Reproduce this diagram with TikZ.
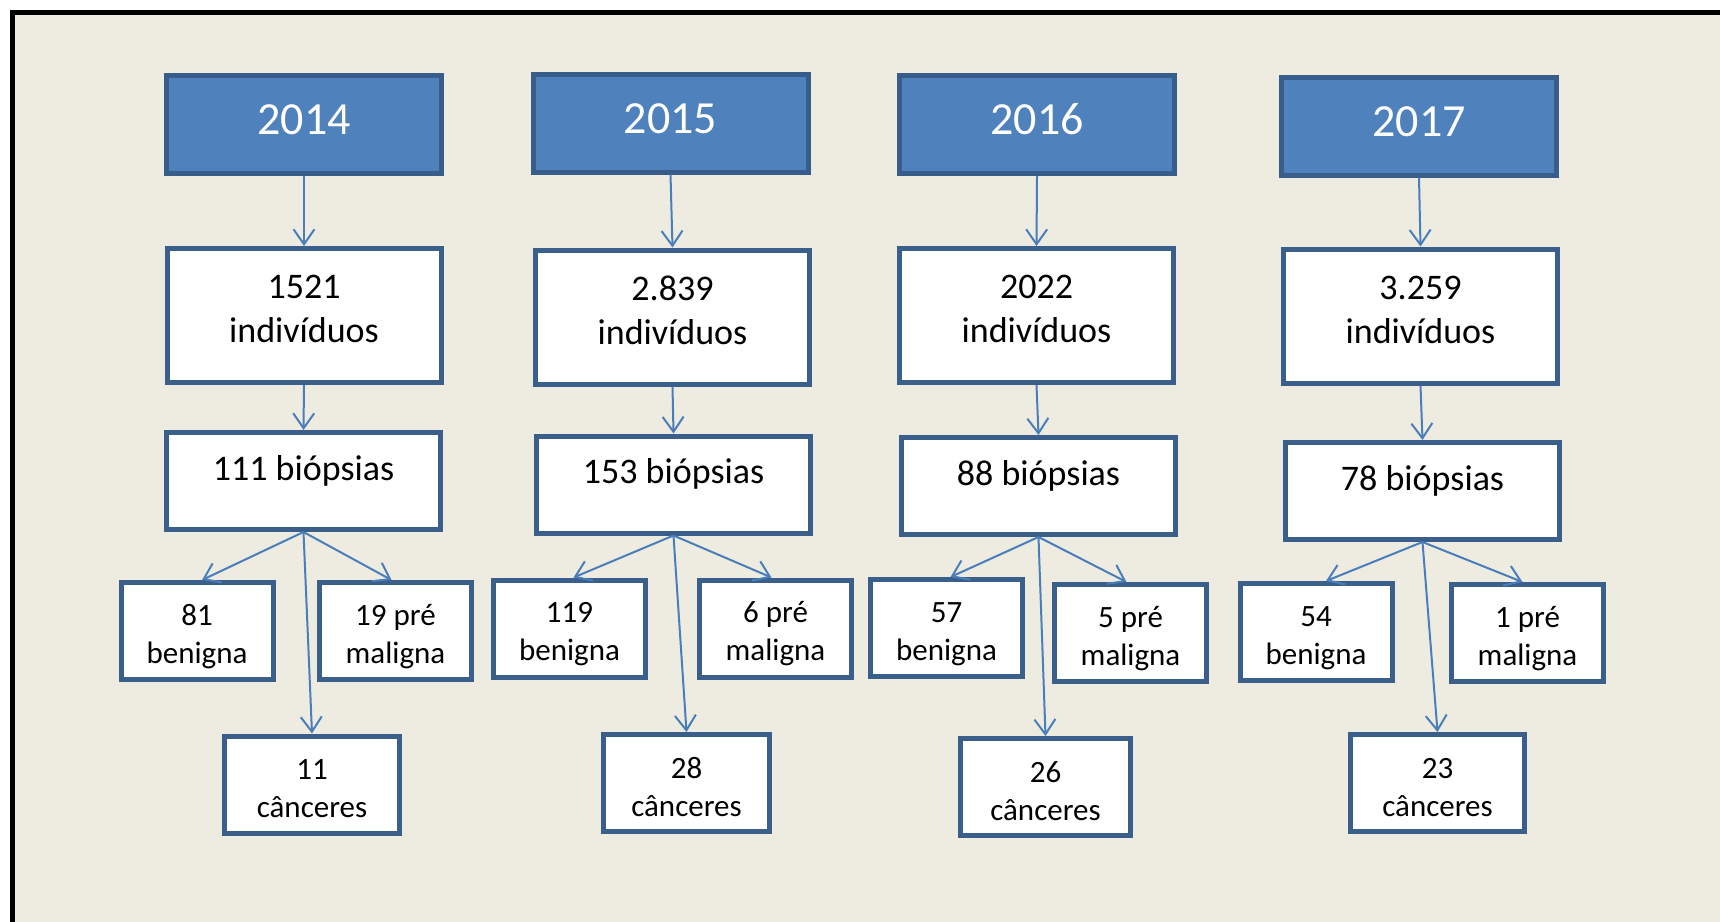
\documentclass[tikz,border=0pt]{standalone}
\usepackage{fontspec}
\setmainfont{Carlito}
\usetikzlibrary{arrows.meta}
\definecolor{bgc}{HTML}{EEECE1}
\definecolor{yearfill}{HTML}{4F81BD}
\definecolor{yearline}{HTML}{385D8A}
\definecolor{boxline}{HTML}{3A5F8B}
\definecolor{arrowc}{HTML}{4A7EBB}
\newcommand{\twolines}[2]{\begin{tabular}[b]{@{}c@{}}#1\\#2\end{tabular}}
\begin{document}
\begin{tikzpicture}[x=1pt,y=-1pt,
  basebox/.style={draw=boxline, fill=white, line width=5pt, inner sep=0pt},
  yearbox/.style={draw=yearline, fill=yearfill, line width=5pt, inner sep=0pt,
    minimum width=275pt, minimum height=98pt, text=white,
    font=\fontsize{46pt}{56pt}\selectfont, text height=30pt, text depth=10pt},
  indbox/.style={basebox, minimum width=274pt, minimum height=134pt,
    font=\fontsize{36pt}{44pt}\selectfont, text height=60pt, text depth=6pt},
  biobox/.style={basebox, minimum width=274pt, minimum height=97pt,
    font=\fontsize{36pt}{44pt}\selectfont, text height=20pt, text depth=22pt},
  smallbox/.style={basebox, minimum width=152pt, minimum height=97pt,
    font=\fontsize{31pt}{38pt}\selectfont, text height=70pt, text depth=6pt},
  cancbox/.style={basebox, minimum height=97pt,
    font=\fontsize{31pt}{38pt}\selectfont, text height=72pt, text depth=6pt},
  arr/.style={draw=arrowc, line width=2pt, -{Straight Barb[length=15pt,width=21pt]}}
]
\useasboundingbox (0,0) rectangle (1720,921);
\fill[white] (-10,-10) rectangle (1740,940);
\fill[bgc] (12.5,12.5) rectangle (1740,940);
\draw[line width=5pt, black] (12.5,940) -- (12.5,12.5) -- (1740,12.5);

% 2014
\node[yearbox] (Y1) at (304,124.5) {2014};
\node[indbox] (I1) at (304,315.5) {\twolines{1521}{indivíduos}};
\node[biobox] (B1) at (303.5,481) {111 biópsias};
\node[smallbox] (N1) at (197,631) {\twolines{81}{benigna}};
\node[smallbox] (P1) at (395.5,631) {\twolines{19 pré}{maligna}};
\node[cancbox, minimum width=175pt] (C1) at (312,784.5) {\twolines{11}{cânceres}};

% 2015
\node[yearbox] (Y2) at (670.5,123) {2015};
\node[indbox] (I2) at (672.5,317) {\twolines{2.839}{indivíduos}};
\node[biobox] (B2) at (673.5,484.5) {153 biópsias};
\node[smallbox] (N2) at (569.5,628.5) {\twolines{119}{benigna}};
\node[smallbox] (P2) at (775.5,628.5) {\twolines{6 pré}{maligna}};
\node[cancbox, minimum width=166pt] (C2) at (686.5,783) {\twolines{28}{cânceres}};

% 2016
\node[yearbox] (Y3) at (1037,124.5) {2016};
\node[indbox] (I3) at (1036.5,315.5) {\twolines{2022}{indivíduos}};
\node[biobox] (B3) at (1038.5,486) {88 biópsias};
\node[smallbox] (N3) at (946.5,628) {\twolines{57}{benigna}};
\node[smallbox] (P3) at (1130.5,633) {\twolines{5 pré}{maligna}};
\node[cancbox, minimum width=170pt] (C3) at (1045.5,787) {\twolines{26}{cânceres}};

% 2017
\node[yearbox] (Y4) at (1419,126) {2017};
\node[indbox] (I4) at (1420.5,316) {\twolines{3.259}{indivíduos}};
\node[biobox] (B4) at (1422.5,491) {78 biópsias};
\node[smallbox] (N4) at (1316,632) {\twolines{54}{benigna}};
\node[smallbox] (P4) at (1527.5,633) {\twolines{1 pré}{maligna}};
\node[cancbox, minimum width=174pt] (C4) at (1437.5,783) {\twolines{23}{cânceres}};

% arrows
\foreach \i in {1,2,3,4}{
  \draw[arr] (Y\i.south) -- (I\i.north);
  \draw[arr] (I\i.south) -- (B\i.north);
  \draw[arr] (B\i.south) -- (C\i.north);
}
\draw[arr] (B1.south) -- ([xshift=5pt]N1.north);
\draw[arr] (B1.south) -- ([xshift=-4pt]P1.north);
\draw[arr] (B2.south) -- ([xshift=4pt]N2.north);
\draw[arr] (B2.south) -- ([xshift=-4pt]P2.north);
\draw[arr] (B3.south) -- ([xshift=4pt]N3.north);
\draw[arr] (B3.south) -- ([xshift=-4pt]P3.north);
\draw[arr] (B4.south) -- ([xshift=10pt]N4.north);
\draw[arr] (B4.south) -- ([xshift=-5pt]P4.north);
\end{tikzpicture}
\end{document}
